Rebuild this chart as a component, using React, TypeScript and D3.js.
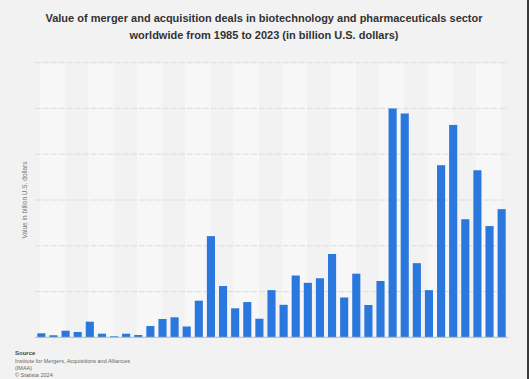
import React from "react";
import * as d3 from "d3";

const years: string[] = [
  "1985","1986","1987","1988","1989","1990","1991","1992","1993","1994",
  "1995","1996","1997","1998","1999","2000","2001","2002","2003","2004",
  "2005","2006","2007","2008","2009","2010","2011","2012","2013","2014",
  "2015","2016","2017","2018","2019","2020","2021","2022","2023",
];
const values: number[] = [
  8.7, 4.4, 14.4, 11.6, 34.1, 7.9, 2.2, 7.9, 5.0, 24.7,
  40.0, 43.7, 23.6, 80, 221, 112, 63.4, 77, 40.6, 103,
  71, 135, 119, 129, 182, 87, 139, 70.6, 123, 500,
  489, 162, 103, 376, 464, 258, 365, 243, 280,
];
const yTicks: number[] = [0, 100, 200, 300, 400, 500, 600];
const titleLines: string[] = [
  "Value of merger and acquisition deals in biotechnology and pharmaceuticals sector",
  "worldwide from 1985 to 2023 (in billion U.S. dollars)",
];
const sourceLines: string[] = [
  "Institute for Mergers, Acquisitions and Alliances",
  "(IMAA)",
  "© Statista 2024",
];

const W = 529;
const H = 379;
const left = 35;
const right = 508;
const top = 62.7;
const bottom = 337.3;

export default function App() {
  const x = d3
    .scaleBand<string>()
    .domain(years)
    .range([left, right])
    .paddingInner(0.33)
    .paddingOuter(0.19);
  const y = d3.scaleLinear().domain([0, 600]).range([bottom, top]);
  const step = x.step();
  const bands: number[] = [];
  for (let k = 0; left + 5 + 4 * k * step < right; k++) bands.push(k);

  return (
    <svg
      width={W}
      height={H}
      style={{ position: "absolute", left: 0, top: 0, display: "block" }}
      fontFamily="'Liberation Sans', Arial, sans-serif"
    >
      <rect x={0} y={0} width={W} height={H} fill="#f2f2f2" />
      <rect x={W - 2} y={0} width={2} height={H} fill="#3a3a3a" />
      {titleLines.map((t, i) => (
        <text
          key={i}
          x={264}
          y={22 + i * 16.5}
          textAnchor="middle"
          fontSize={11}
          fontWeight="bold"
          fill="#333"
        >
          {t}
        </text>
      ))}
      {bands.map((k) => {
        const bx = left + 5 + 4 * k * step;
        const bw = Math.min(2 * step + 1, right - bx);
        return (
          <rect key={k} x={bx} y={top} width={bw} height={bottom - top} fill="#f7f7f7" />
        );
      })}
      {yTicks.map((t) =>
        t === 0 ? null : (
          <line
            key={t}
            x1={left}
            x2={right}
            y1={y(t)}
            y2={y(t)}
            stroke="#dcdcdc"
            strokeWidth={1}
            strokeDasharray="6,2"
          />
        )
      )}
      {years.map((yr, i) => (
        <rect
          key={yr}
          x={x(yr)}
          y={y(values[i])}
          width={x.bandwidth()}
          height={bottom - y(values[i])}
          fill="#2a77dd"
        />
      ))}
      <line x1={left} x2={right} y1={bottom} y2={bottom} stroke="#b8b8b8" strokeWidth={1} />
      <text
        transform={`translate(27,200) rotate(-90)`}
        textAnchor="middle"
        fontSize={6.5}
        fill="#777"
      >
        Value in billion U.S. dollars
      </text>
      <text x={15} y={355} fontSize={6} fontWeight="bold" fill="#444">
        Source
      </text>
      {sourceLines.map((s, i) => (
        <text key={i} x={15} y={362.5 + i * 7} fontSize={5.5} fill="#666">
          {s}
        </text>
      ))}
    </svg>
  );
}
